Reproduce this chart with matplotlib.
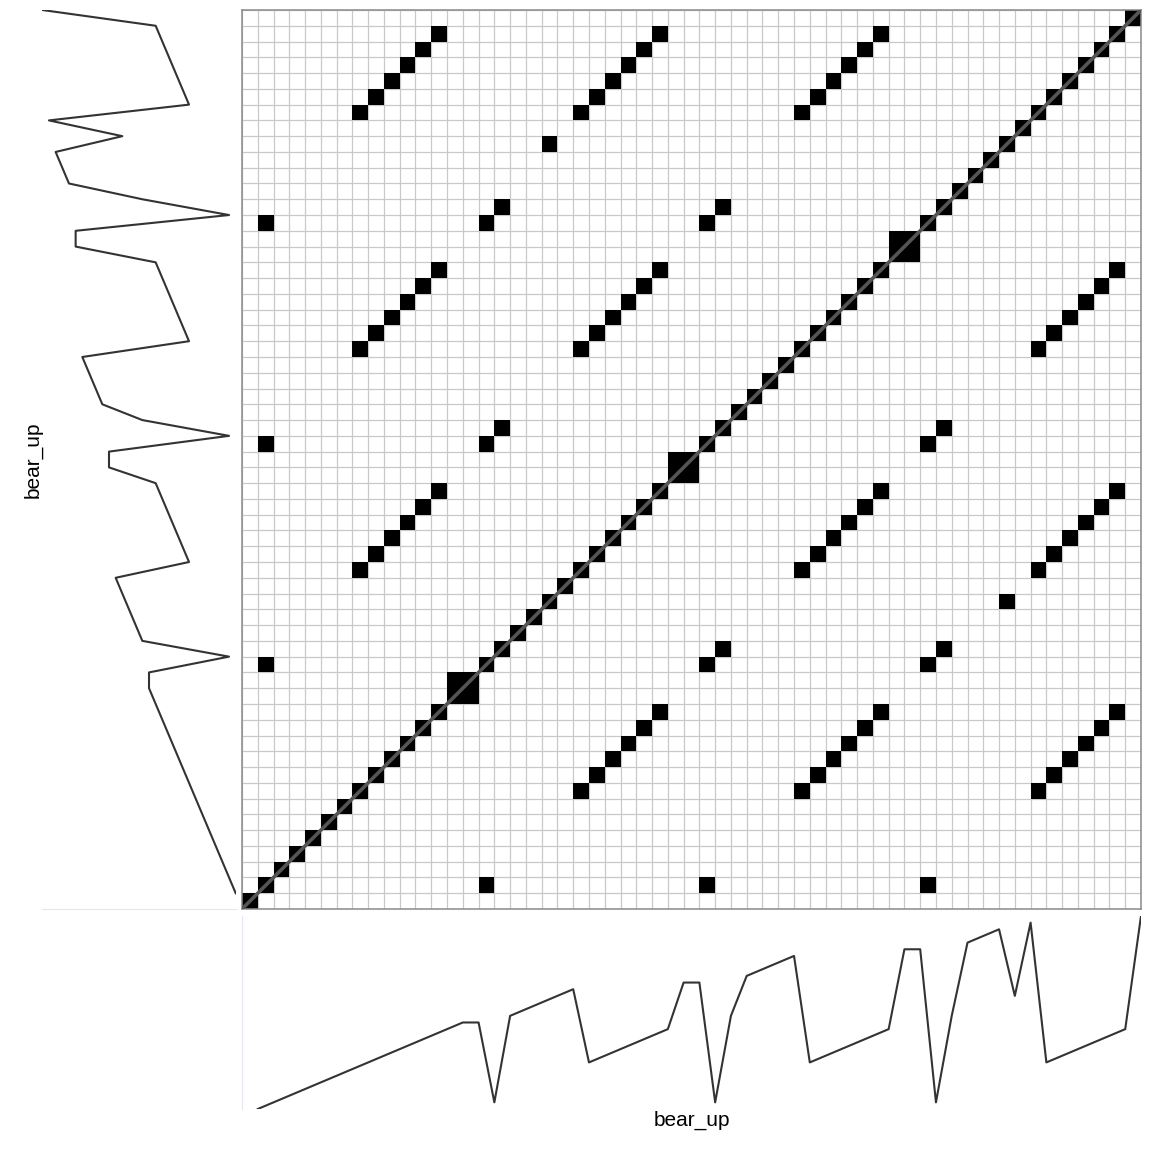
import numpy as np
import matplotlib
matplotlib.use("Agg")
import matplotlib.pyplot as plt
from matplotlib.colors import ListedColormap

plt.rcParams['font.family'] = ['Liberation Sans', 'DejaVu Sans']

# series (time index 1..57)
bear_up = [0, 1, 2, 3, 4, 5, 6, 7, 8, 9, 10, 11, 12, 13, 13,
           1, 14, 15, 16, 17, 18, 7, 8, 9, 10, 11, 12, 19, 19,
           1, 14, 20, 21, 22, 23, 7, 8, 9, 10, 11, 12, 24, 24,
           1, 14, 25, 26, 27, 17, 28, 7, 8, 9, 10, 11, 12, 29]
series_name = "bear_up"

vals = np.array(bear_up)
n = len(vals)
idx = np.arange(1, n + 1)

# recurrence matrix: equal values
rec = (vals[:, None] == vals[None, :]).astype(float)
rec = np.ma.masked_where(rec == 0, rec)

fig = plt.figure(figsize=(11.52, 11.52), dpi=100)
W = 1152.0

def frac(x0, y0, x1, y1):
    return [x0 / W, 1 - y1 / W, (x1 - x0) / W, (y1 - y0) / W]

# main recurrence grid
ax = fig.add_axes(frac(242, 10, 1141, 909))
ax.pcolormesh(np.arange(n + 1), np.arange(n + 1), rec,
              cmap=ListedColormap(['black']), zorder=1)
ax.plot([0, n], [0, n], color='#555555', lw=2.6, zorder=3,
        solid_capstyle='butt')
ax.set_xlim(0, n)
ax.set_ylim(0, n)
ax.set_xticks(np.arange(n + 1))
ax.set_yticks(np.arange(n + 1))
ax.tick_params(length=0, labelbottom=False, labelleft=False)
ax.set_axisbelow(True)
ax.grid(True, color='#c9c9c9', lw=0.9)
for s in ax.spines.values():
    s.set_color('#8a8a8a')
    s.set_linewidth(1.1)

# left marginal (value axis reversed)
axl = fig.add_axes(frac(42.3, 10, 235.7, 909))
axl.plot(vals, idx, color='#333333', lw=1.5)
axl.set_xlim(vals.max(), vals.min())
axl.set_ylim(0, n)
axl.set_xticks([])
axl.set_yticks([])
for k in ['top', 'left', 'right']:
    axl.spines[k].set_visible(False)
axl.spines['bottom'].set_color('#e3e8f0')
axl.patch.set_alpha(0)

# bottom marginal
axb = fig.add_axes(frac(242, 916, 1141, 1109))
axb.plot(idx, vals, color='#333333', lw=1.5)
axb.set_xlim(0, n)
axb.set_ylim(vals.min(), vals.max())
axb.set_xticks([])
axb.set_yticks([])
for k in ['top', 'bottom', 'right']:
    axb.spines[k].set_visible(False)
axb.spines['left'].set_color('#e3e8f0')
axb.patch.set_alpha(0)

fig.text(33 / W, 1 - 459.5 / W, series_name, rotation=90,
         ha='center', va='center', fontsize=15)
fig.text(691.5 / W, 1 - 1120 / W, series_name,
         ha='center', va='center', fontsize=15)

fig.savefig("out.png", dpi=100)
